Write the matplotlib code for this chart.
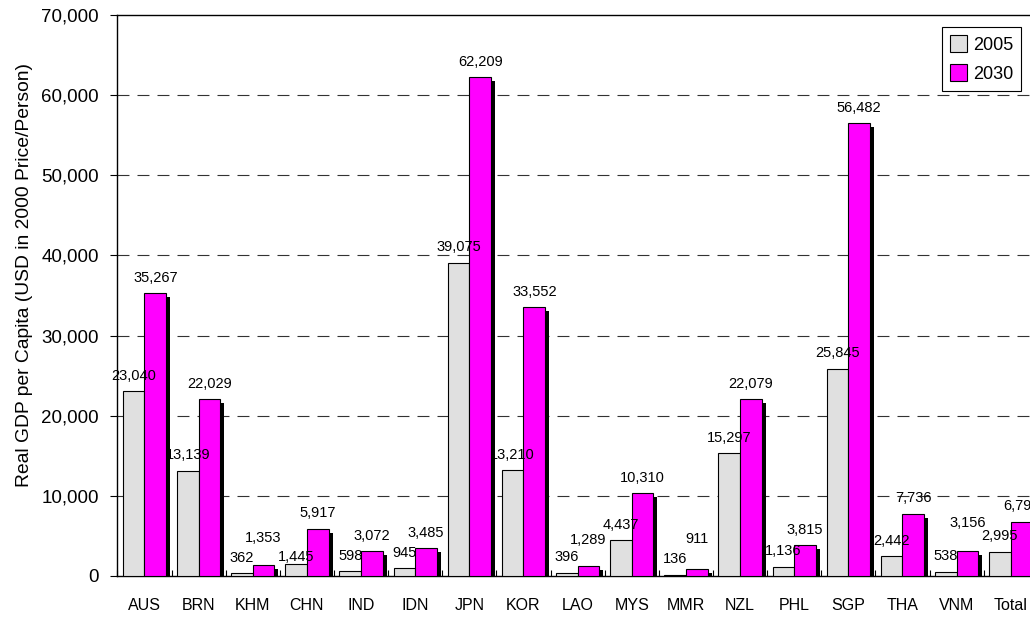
import numpy as np
import matplotlib
matplotlib.use('Agg')
import matplotlib.pyplot as plt
import matplotlib.patheffects as pe
from matplotlib.patches import Patch

plt.rcParams['font.family'] = ['Liberation Sans', 'DejaVu Sans']
plt.rcParams['lines.scale_dashes'] = False

# Datos
paises = ['AUS', 'BRN', 'KHM', 'CHN', 'IND', 'IDN', 'JPN', 'KOR', 'LAO',
          'MYS', 'MMR', 'NZL', 'PHL', 'SGP', 'THA', 'VNM', 'Total']
gdp_2005 = [23040, 13139, 362, 1445, 598, 945, 39075, 13210, 396,
            4437, 136, 15297, 1136, 25845, 2442, 538, 2995]
gdp_2030 = [35267, 22029, 1353, 5917, 3072, 3485, 62209, 33552, 1289,
            10310, 911, 22079, 3815, 56482, 7736, 3156, 6797]
y_ticks = [0, 10000, 20000, 30000, 40000, 50000, 60000, 70000]

# Ajustes manuales de etiquetas (puntos extra hacia arriba)
ajuste_2005 = {'CHN': -6}
ajuste_2030 = {'KHM': 8.5, 'LAO': 7, 'MMR': 10.5, 'VNM': 8.5}

fig = plt.figure(figsize=(10.3, 6.17), dpi=100)
ax = fig.add_axes([117.4/1030, 1-576/617, 920.4/1030, 561/617])

x = np.arange(len(paises))
w = 0.4
sombra = [pe.SimplePatchShadow(offset=(2.9, -2.9), shadow_rgbFace='black', alpha=1.0), pe.Normal()]

ax.bar(x - w/2, gdp_2005, w, color='#E0E0E0', edgecolor='black', linewidth=0.8,
       zorder=3, path_effects=sombra)
ax.bar(x + w/2, gdp_2030, w, color='#FF00FF', edgecolor='black', linewidth=0.8,
       zorder=4, path_effects=sombra)

# Etiquetas de valores
for p, xi, v in zip(paises, x - w/2, gdp_2005):
    ax.annotate(f'{v:,}', (xi, v), xytext=(0, 8.3 + ajuste_2005.get(p, 0)),
                textcoords='offset points', ha='center', va='baseline',
                fontsize=10.5, zorder=6, annotation_clip=False)
for p, xi, v in zip(paises, x + w/2, gdp_2030):
    ax.annotate(f'{v:,}', (xi, v), xytext=(0, 8.3 + ajuste_2030.get(p, 0)),
                textcoords='offset points', ha='center', va='baseline',
                fontsize=10.5, zorder=6, annotation_clip=False)

ax.set_xlim(-0.5, len(paises) - 0.5)
ax.set_ylim(0, 70000)
ax.set_yticks(y_ticks)
ax.set_yticklabels([f'{t:,}' for t in y_ticks], fontsize=13.5)
ax.set_xticks(x)
ax.set_xticklabels(paises, fontsize=11.5)
ax.tick_params(axis='x', length=0, pad=16)
ax.set_xticks(np.arange(-0.5, len(paises), 1), minor=True)
ax.tick_params(axis='x', which='minor', direction='in', length=4, width=0.8)
ax.tick_params(axis='y', direction='out', length=5, width=0.8, pad=8.5)

for t in y_ticks[1:-1]:
    ax.axhline(t, color='#333333', linewidth=0.8, dashes=(8.6, 5.8), zorder=1)

for s in ['left', 'top', 'bottom']:
    ax.spines[s].set_linewidth(1.0)
ax.spines['right'].set_visible(False)

ax.set_ylabel('Real GDP per Capita (USD in 2000 Price/Person)', fontsize=13.9)
ax.yaxis.set_label_coords(-0.0917, 0.5357)

handles = [Patch(facecolor='#E0E0E0', edgecolor='black', linewidth=0.8, label='2005'),
           Patch(facecolor='#FF00FF', edgecolor='black', linewidth=0.8, label='2030')]
leg = ax.legend(handles=handles, loc='upper right', bbox_to_anchor=(1021/1030, 1-27/617),
                bbox_transform=fig.transFigure, borderaxespad=0, fontsize=13,
                fancybox=False, edgecolor='black', framealpha=1,
                handlelength=0.95, handleheight=1.1, handletextpad=0.3,
                borderpad=0.45, labelspacing=0.55)
leg.get_frame().set_linewidth(0.8)

fig.savefig('out.png', dpi=100)
